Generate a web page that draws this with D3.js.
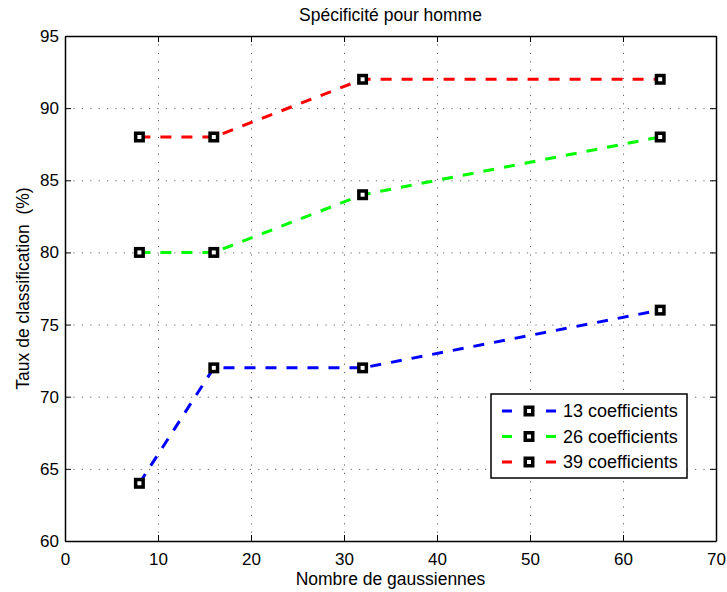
<!DOCTYPE html>
<html>
<head>
<meta charset="utf-8">
<script src="https://cdn.jsdelivr.net/npm/d3@7"></script>
<style>
  html, body { margin: 0; padding: 0; background: #fff; }
  text { font-family: "Liberation Sans", Arial, Helvetica, sans-serif; fill: #000; }
</style>
</head>
<body>
<svg id="chart" width="727" height="592"></svg>
<script>
// Number of Gaussians per model
const gaussians = [8, 16, 32, 64];
// Classification rate (%) for each number of cepstral coefficients
const coef13 = [64, 72, 72, 76];
const coef26 = [80, 80, 84, 88];
const coef39 = [88, 88, 92, 92];
const seriesNames = ["13 coefficients", "26 coefficients", "39 coefficients"];
const seriesColors = ["#0000ff", "#00ff00", "#ff0000"];
const xTicks = [0, 10, 20, 30, 40, 50, 60, 70];
const yTicks = [60, 65, 70, 75, 80, 85, 90, 95];

const series = [coef13, coef26, coef39].map((vals, i) => ({
  name: seriesNames[i],
  color: seriesColors[i],
  points: gaussians.map((g, j) => ({ x: g, y: vals[j] }))
}));

const svg = d3.select("#chart");
const margin = { left: 65, top: 36, right: 11, bottom: 51 };
const W = 727, H = 592;
const x = d3.scaleLinear().domain([0, 70]).range([margin.left, W - margin.right]);
const y = d3.scaleLinear().domain([60, 95]).range([H - margin.bottom, margin.top]);

const x0 = x.range()[0], x1 = x.range()[1];
const y0 = y.range()[0], y1 = y.range()[1];
const fontStack = '"Liberation Sans", Arial, sans-serif';

// dotted grid
const grid = svg.append("g").attr("stroke", "#666").attr("stroke-width", 1)
  .attr("stroke-dasharray", "1.2,7.2").attr("fill", "none");
xTicks.slice(1, -1).forEach(t => {
  grid.append("line").attr("x1", x(t) + 0.5).attr("x2", x(t) + 0.5).attr("y1", y1).attr("y2", y0);
});
yTicks.slice(1, -1).forEach(t => {
  grid.append("line").attr("x1", x0).attr("x2", x1).attr("y1", y(t) + 0.5).attr("y2", y(t) + 0.5);
});

// axes with inward ticks on all four sides
const tickLen = 6;
const axB = svg.append("g").attr("transform", `translate(0,${y0})`)
  .call(d3.axisBottom(x).tickValues(xTicks).tickSizeInner(-tickLen).tickSizeOuter(0).tickPadding(12));
const axT = svg.append("g").attr("transform", `translate(0,${y1})`)
  .call(d3.axisTop(x).tickValues(xTicks).tickSizeInner(-tickLen).tickSizeOuter(0).tickFormat(""));
const axL = svg.append("g").attr("transform", `translate(${x0},0)`)
  .call(d3.axisLeft(y).tickValues(yTicks).tickSizeInner(-tickLen).tickSizeOuter(0).tickPadding(6));
const axR = svg.append("g").attr("transform", `translate(${x1},0)`)
  .call(d3.axisRight(y).tickValues(yTicks).tickSizeInner(-tickLen).tickSizeOuter(0).tickFormat(""));

[axB, axT, axL, axR].forEach(a => {
  a.select(".domain").attr("stroke", "#000").attr("stroke-width", 1.5);
  a.selectAll(".tick line").attr("stroke", "#000").attr("stroke-width", 1);
  a.selectAll(".tick text").attr("font-size", 17).attr("fill", "#000")
    .style("font-family", fontStack);
});

// series lines
const line = d3.line().x(d => x(d.x)).y(d => y(d.y));
series.forEach(s => {
  svg.append("path").datum(s.points)
    .attr("d", line)
    .attr("fill", "none")
    .attr("stroke", s.color)
    .attr("stroke-width", 3)
    .attr("stroke-dasharray", "11,10");
});

// square markers
function marker(g, cx, cy) {
  g.append("rect").attr("x", cx - 3.75).attr("y", cy - 3.75).attr("width", 7.5).attr("height", 7.5)
    .attr("fill", "#fff").attr("stroke", "#000").attr("stroke-width", 3.5);
}
series.forEach(s => {
  const g = svg.append("g");
  s.points.forEach(p => marker(g, x(p.x), y(p.y)));
});

// legend
const lg = svg.append("g");
const lx = 491, ly = 394, lw = 196, lh = 84;
lg.append("rect").attr("x", lx).attr("y", ly).attr("width", lw).attr("height", lh)
  .attr("fill", "#fff").attr("stroke", "#000").attr("stroke-width", 1.5);
series.forEach((s, i) => {
  const ry = ly + 17 + i * 25.5;
  lg.append("line").attr("x1", lx + 11).attr("x2", lx + 66).attr("y1", ry).attr("y2", ry)
    .attr("stroke", s.color).attr("stroke-width", 3).attr("stroke-dasharray", "10,34");
  marker(lg, lx + 38, ry);
  lg.append("text").attr("x", lx + 72).attr("y", ry).attr("dy", "0.35em")
    .attr("font-size", 18).text(s.name);
});

// title and axis labels
svg.append("text").attr("x", (x0 + x1) / 2).attr("y", 21).attr("text-anchor", "middle")
  .attr("font-size", 17.5).text("Spécificité pour homme");
svg.append("text").attr("x", (x0 + x1) / 2).attr("y", 585).attr("text-anchor", "middle")
  .attr("font-size", 17.5).text("Nombre de gaussiennes");
svg.append("text").attr("transform", `translate(29,${(y0 + y1) / 2}) rotate(-90)`)
  .attr("text-anchor", "middle").attr("font-size", 17.5).style("white-space", "pre")
  .text("Taux de classification  (%)");
</script>
</body>
</html>
